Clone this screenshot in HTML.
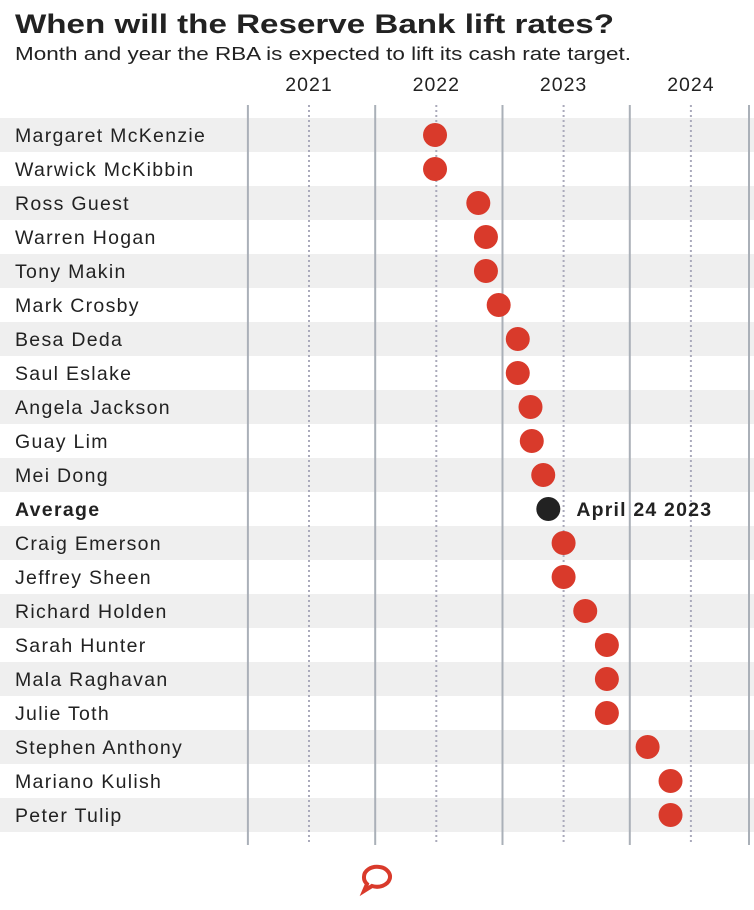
<!DOCTYPE html>
<html><head><meta charset="utf-8"><style>
body{margin:0;background:#fff;}
svg text{font-family:"Liberation Sans",sans-serif;}
</style></head><body>
<svg id="chart" width="754" height="905">
<text x="15" y="33" font-size="27" font-weight="bold" fill="#222" textLength="599" lengthAdjust="spacingAndGlyphs">When will the Reserve Bank lift rates?</text>
<text x="15" y="60" font-size="18.5" fill="#222" textLength="616" lengthAdjust="spacingAndGlyphs">Month and year the RBA is expected to lift its cash rate target.</text>
<g id="bands"></g><g id="grid"></g><g id="labels"></g><g id="dots"></g>
<g transform="translate(377,877)">
<path d="M-13,0 a13,10 0 1,1 8,9 l-8,5 l3,-7 a13,10 0 0,1 -3,-7z" fill="none" stroke="#d93a2b" stroke-width="4"/>
</g>
</svg>
<script>
const names=["Margaret McKenzie","Warwick McKibbin","Ross Guest","Warren Hogan","Tony Makin","Mark Crosby","Besa Deda","Saul Eslake","Angela Jackson","Guay Lim","Mei Dong","Average","Craig Emerson","Jeffrey Sheen","Richard Holden","Sarah Hunter","Mala Raghavan","Julie Toth","Stephen Anthony","Mariano Kulish","Peter Tulip"];
const values=[2021.99,2021.99,2022.33,2022.39,2022.39,2022.49,2022.64,2022.64,2022.74,2022.75,2022.84,2022.88,2023.0,2023.0,2023.17,2023.34,2023.34,2023.34,2023.66,2023.84,2023.84];
const years=["2021","2022","2023","2024"];
const avgLabel="April 24 2023";
const NS="http://www.w3.org/2000/svg";
const x=v=>309+(v-2021)*127.3;
const y=i=>135+i*34;
function mk(t,a,p){const e=document.createElementNS(NS,t);for(const k in a)e.setAttribute(k,a[k]);p.appendChild(e);return e;}
const bands=document.getElementById('bands'),grid=document.getElementById('grid'),labels=document.getElementById('labels'),dots=document.getElementById('dots');
names.forEach((n,i)=>{
 if(i%2===0){const r=mk('rect',{x:0,y:y(i)-17,width:754,height:34,fill:'#efefef'},bands);
 
 }
 const t=mk('text',{x:15,y:y(i)+7,'font-size':19.5,'letter-spacing':1.3,fill:'#222','font-weight':n==='Average'?'bold':'normal'},labels);
 t.textContent=n;
 
 
 const c=mk('circle',{cx:x(values[i]),cy:y(i),r:12,fill:n==='Average'?'#222':'#d93a2b'},dots);
 
 
 if(n==='Average'){const a=mk('text',{x:x(values[i])+28,y:y(i)+7,'font-size':19.5,'letter-spacing':1.2,'font-weight':'bold',fill:'#222'},labels);
 a.textContent=avgLabel;
 
 }
});
years.forEach((yr,j)=>{
 const v=+yr;
 const d=mk('line',{x1:x(v),x2:x(v),y1:105,y2:845,stroke:'#aab',"stroke-width":2,"stroke-dasharray":"2,3"},grid);
 
 
 const s=mk('line',{x1:x(v-0.48),x2:x(v-0.48),y1:105,y2:845,stroke:'#aab0b8',"stroke-width":2},grid);
 
 
 const t=mk('text',{x:x(v),y:91,'font-size':19.5,'letter-spacing':1,fill:'#222','text-anchor':'middle'},labels);
 t.textContent=yr;
 
 
});
const e=mk('line',{x1:749,x2:749,y1:105,y2:845,stroke:'#aab0b8',"stroke-width":2},grid);


</script>
</body></html>
